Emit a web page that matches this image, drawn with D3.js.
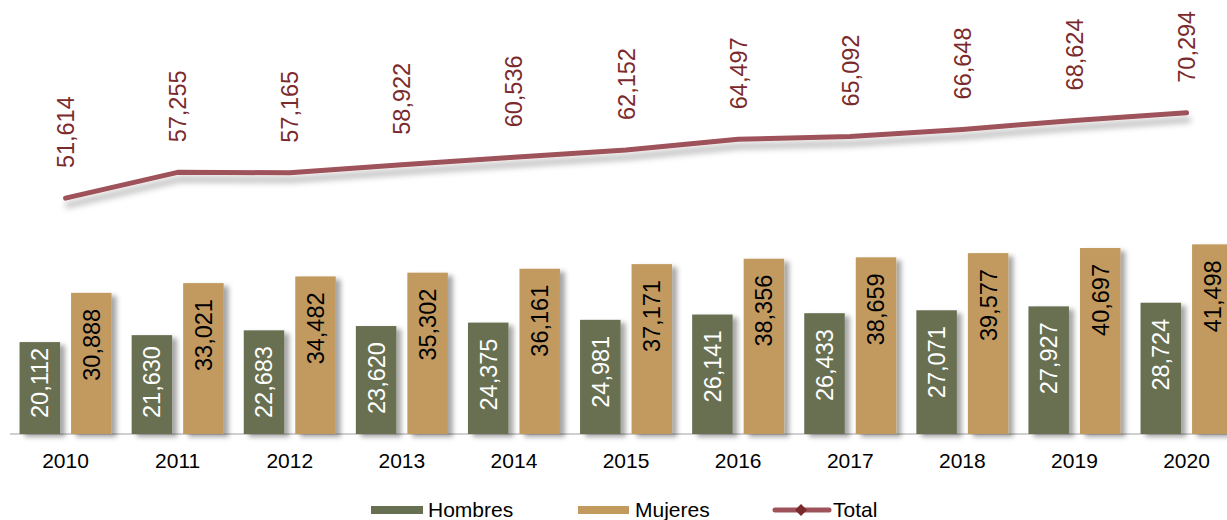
<!DOCTYPE html>
<html>
<head>
<meta charset="utf-8">
<script src="https://cdn.jsdelivr.net/npm/d3@7"></script>
<style>
  html, body { margin: 0; padding: 0; background: #ffffff; }
  svg { display: block; font-family: "Liberation Sans", Arial, sans-serif; }
</style>
</head>
<body>
<svg id="chart" width="1227" height="520"></svg>
<script>
const years = ["2010","2011","2012","2013","2014","2015","2016","2017","2018","2019","2020"];
const hombres = [20112, 21630, 22683, 23620, 24375, 24981, 26141, 26433, 27071, 27927, 28724];
const mujeres = [30888, 33021, 34482, 35302, 36161, 37171, 38356, 38659, 39577, 40697, 41498];
const total   = [51614, 57255, 57165, 58922, 60536, 62152, 64497, 65092, 66648, 68624, 70294];
const seriesNames = ["Hombres", "Mujeres", "Total"];

const colors = { Hombres: "#676f51", Mujeres: "#c29a5e", Total: "#9e525a" };
const fmt = d3.format(",");

const svg = d3.select("#chart");
const W = 1227, H = 520;
const baseY = 434;

const defs = svg.append("defs");
const fBar = defs.append("filter").attr("id", "barShadow")
  .attr("x", "-20%").attr("y", "-10%").attr("width", "160%").attr("height", "130%");
fBar.append("feDropShadow").attr("dx", 5).attr("dy", 3).attr("stdDeviation", 2.5)
  .attr("flood-color", "#000").attr("flood-opacity", 0.35);
const fLine = defs.append("filter").attr("id", "lineShadow")
  .attr("x", "-5%").attr("y", "-50%").attr("width", "110%").attr("height", "250%");
fLine.append("feDropShadow").attr("dx", 2).attr("dy", 7).attr("stdDeviation", 3)
  .attr("flood-color", "#000").attr("flood-opacity", 0.3);

const x = d3.scaleBand().domain(years).range([9.5, 9.5 + 11 * 112.1]).padding(0);
const x1 = d3.scaleBand().domain(["Hombres", "Mujeres"]).range([-46, 46]).paddingInner(0.214);
const y = d3.scaleLinear().domain([0, 100000]).range([baseY, baseY - 457]);

// axis
const axisG = svg.append("g").attr("transform", `translate(0,${baseY})`)
  .call(d3.axisBottom(x).tickSize(0).tickPadding(19));
axisG.attr("font-size", 21).attr("font-family", "Liberation Sans, Arial, sans-serif");
axisG.select(".domain").attr("stroke", "#d0d0d0").attr("stroke-width", 2)
  .attr("d", `M10,0H${W}`);
axisG.selectAll("text").attr("font-size", 21).attr("fill", "#000");

const cx = d => x(d) + x.bandwidth() / 2;

// bars
const groups = [
  { name: "Hombres", values: hombres, labelColor: "#ffffff" },
  { name: "Mujeres", values: mujeres, labelColor: "#000000" }
];
groups.forEach(g => {
  const gg = svg.append("g");
  gg.selectAll("rect").data(years).join("rect")
    .attr("x", (d) => cx(d) + x1(g.name))
    .attr("width", x1.bandwidth())
    .attr("y", (d, i) => y(g.values[i]))
    .attr("height", (d, i) => baseY - y(g.values[i]))
    .attr("fill", colors[g.name])
    .attr("filter", "url(#barShadow)");
});
groups.forEach(g => {
  const lg = svg.append("g");
  years.forEach((d, i) => {
    const px = cx(d) + x1(g.name) + x1.bandwidth() / 2;
    const t = lg.append("text")
      .attr("font-size", 23.5)
      .attr("fill", g.labelColor)
      .attr("text-anchor", "start")
      .attr("dy", "0.36em")
      .text(fmt(g.values[i]));
    const L = t.node().getComputedTextLength();
    const startY = Math.min(y(g.values[i]) + 16 + L, baseY - 16);
    t.attr("transform", `translate(${px},${startY}) rotate(-90)`);
  });
});

// line
const line = d3.line().x((d, i) => cx(years[i])).y(d => y(d));
svg.append("path").datum(total)
  .attr("d", line)
  .attr("fill", "none")
  .attr("stroke", colors.Total)
  .attr("stroke-width", 5)
  .attr("stroke-linecap", "round")
  .attr("stroke-linejoin", "round")
  .attr("filter", "url(#lineShadow)");

svg.append("g").selectAll("text").data(total).join("text")
  .attr("transform", (d, i) => `translate(${cx(years[i])},${y(d) - 30}) rotate(-90)`)
  .attr("text-anchor", "start")
  .attr("dy", "0.36em")
  .attr("font-size", 23.5)
  .attr("fill", "#7b2a2c")
  .text(d => fmt(d));

// legend
const legend = svg.append("g").attr("font-size", 21).attr("fill", "#000");
const legY = 510;
legend.append("rect").attr("x", 371).attr("y", legY - 4).attr("width", 52).attr("height", 8).attr("fill", colors.Hombres);
legend.append("text").attr("x", 428).attr("y", 517).text(seriesNames[0]);
legend.append("rect").attr("x", 578).attr("y", legY - 4).attr("width", 51).attr("height", 8).attr("fill", colors.Mujeres);
legend.append("text").attr("x", 635).attr("y", 517).text(seriesNames[1]);
legend.append("line").attr("x1", 775).attr("x2", 829).attr("y1", legY).attr("y2", legY)
  .attr("stroke", colors.Total).attr("stroke-width", 5).attr("stroke-linecap", "round");
legend.append("path").attr("d", `M801,${legY - 6}L807,${legY}L801,${legY + 6}L795,${legY}Z`)
  .attr("fill", "#7b2a2c");
legend.append("text").attr("x", 833).attr("y", 517).text(seriesNames[2]);
</script>
</body>
</html>
